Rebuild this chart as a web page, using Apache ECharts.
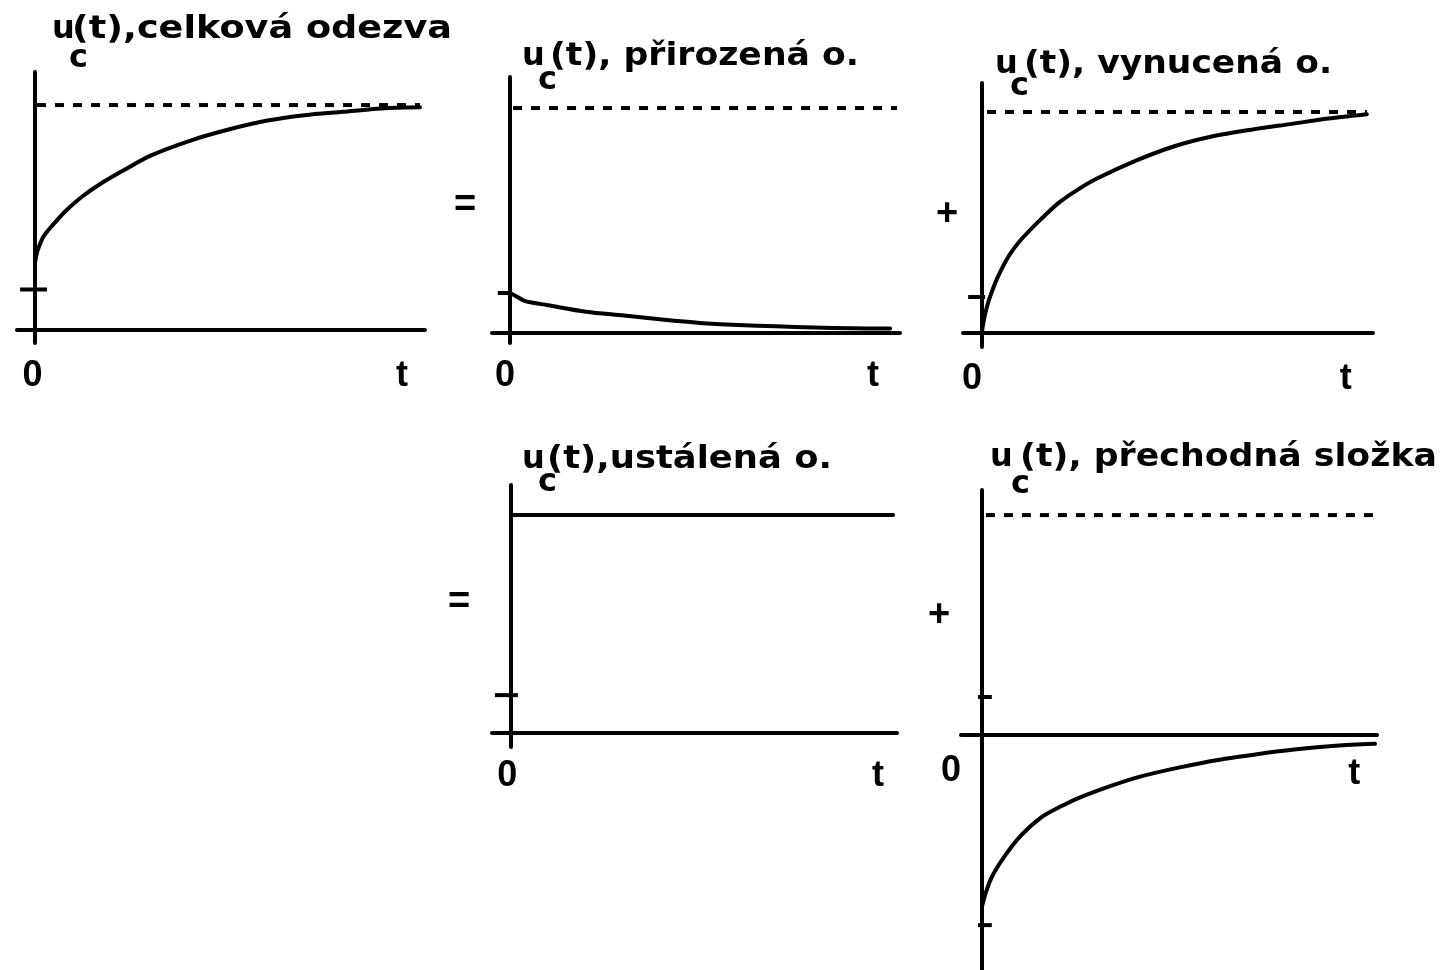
<!DOCTYPE html>
<html><head><meta charset="utf-8">
<script src="https://cdn.jsdelivr.net/npm/echarts@6/dist/echarts.min.js"></script>
<style>html,body{margin:0;padding:0;background:#fff;}#c{width:1442px;height:970px;}</style>
</head><body><div id="c"></div>
<script>
// ---------------- DATA ----------------
// Panel titles (u_c(t), ...)
const titleMain = 'u';
const titleSub = 'c';
const titleRest = ['(t),celková odezva', '(t), přirozená o.', '(t), vynucená o.', '(t),ustálená o.', '(t), přechodná složka'];
const operators = ['=', '+', '=', '+'];
const axisTexts = ['0', 't'];

// total response u_c(t)
const totalT = [0, 0.05, 0.1, 0.2, 0.35, 0.5, 0.8, 1.2, 1.7, 2.3, 3, 4, 5, 6, 7, 8, 9, 10];
const totalU = [0.30, 0.345, 0.37, 0.41, 0.445, 0.475, 0.53, 0.59, 0.65, 0.71, 0.775, 0.84, 0.89, 0.93, 0.955, 0.97, 0.985, 0.99];
// natural response
const naturalT = [0, 0.15, 0.4, 1, 2, 3, 4, 5, 6, 7, 8, 9, 10];
const naturalU = [0.178, 0.165, 0.142, 0.124, 0.095, 0.078, 0.06, 0.045, 0.036, 0.03, 0.025, 0.021, 0.02];
// forced response
const forcedT = [0, 0.05, 0.1, 0.2, 0.4, 0.7, 1, 1.5, 2, 2.5, 3, 4, 5, 6, 7, 8, 9, 10];
const forcedU = [0.01, 0.06, 0.1, 0.16, 0.25, 0.35, 0.42, 0.51, 0.59, 0.65, 0.70, 0.78, 0.845, 0.89, 0.92, 0.945, 0.97, 0.99];
// steady-state response
const steadyT = [0, 10];
const steadyU = [1, 1];
// transient component
const transientT = [0, 0.05, 0.1, 0.25, 0.6, 1, 1.5, 2, 2.5, 3.3, 4, 5, 6, 7, 8, 9, 10];
const transientU = [-0.78, -0.745, -0.715, -0.645, -0.545, -0.455, -0.375, -0.325, -0.283, -0.23, -0.19, -0.148, -0.113, -0.087, -0.065, -0.049, -0.04];
// final (asymptotic) value and short marks on the vertical axes
const finalValue = 1;
const totalMarks = [0.18];
const naturalMarks = [0.178];
const forcedMarks = [0.163];
const steadyMarks = [0.174];
const transientMarks = [0.173, -0.864];

// ---------------- LAYOUT ----------------
const BLACK = '#000';
const TF = 'DejaVu Sans';
const panels = [
  {t: totalT, u: totalU, marks: totalMarks, dashed: [0.05, 10], tick: [-0.39, 0.31],
   left: 17, top: 72, width: 408, height: 271, xMin: -0.47, xMax: 10.13, yMin: -0.058, yMax: 1.147,
   lab0: -0.065, labT: 9.53, margin: 15},
  {t: naturalT, u: naturalU, marks: naturalMarks, dashed: [0.08, 10.18], tick: [-0.32, 0],
   left: 492, top: 77, width: 408, height: 266, xMin: -0.474, xMax: 10.26, yMin: -0.044, yMax: 1.138,
   lab0: -0.13, labT: 9.55, margin: 15},
  {t: forcedT, u: forcedU, marks: forcedMarks, dashed: [0.13, 10], tick: [-0.36, 0.08],
   left: 963, top: 83, width: 410, height: 264, xMin: -0.494, xMax: 10.16, yMin: -0.063, yMax: 1.131,
   lab0: -0.26, labT: 9.45, margin: 14},
  {t: steadyT, u: steadyU, marks: steadyMarks, dashed: null, tick: [-0.42, 0.18],
   left: 492, top: 485, width: 405, height: 262, xMin: -0.497, xMax: 10.1, yMin: -0.064, yMax: 1.138,
   lab0: -0.1, labT: 9.6, margin: 11},
  {t: transientT, u: transientU, marks: transientMarks, dashed: [0.1, 9.95], tick: [-0.1, 0.25],
   left: 961, top: 490, width: 416, height: 480, xMin: -0.534, xMax: 10.05, yMin: -1.068, yMax: 1.114,
   lab0: null, labT: 9.47, margin: -214, yZeroLabel: true}
];
const titlePos = [
  {ux: 55, base: 40, rx0: 75, rx1: 450, cx: 71, cy: 60},
  {ux: 525, base: 67, rx0: 553, rx1: 857, cx: 540, cy: 82},
  {ux: 998, base: 75, rx0: 1027, rx1: 1330, cx: 1012, cy: 88},
  {ux: 525, base: 470, rx0: 550, rx1: 830, cx: 540, cy: 484},
  {ux: 993, base: 468, rx0: 1023, rx1: 1435, cx: 1013, cy: 486}
];
const opPos = [[465, 206], [947, 215], [459, 603], [939, 616]];

const pts = (ts, us) => ts.map((t, i) => [t, us[i]]);
const labelFont = {fontSize: 36, fontWeight: 'bold', fontFamily: '"Liberation Sans Narrow", "Liberation Sans", sans-serif', color: BLACK, lineHeight: 36};

const grids = [], xAxes = [], yAxes = [], series = [];
panels.forEach((p, i) => {
  grids.push({left: p.left, top: p.top, width: p.width, height: p.height, containLabel: false, outerBoundsMode: 'none'});
  const xl = [];
  if (p.lab0 !== null) xl.push(p.lab0);
  xl.push(p.labT);
  xAxes.push({
    type: 'value', gridIndex: i, min: p.xMin, max: p.xMax,
    axisLine: {onZero: true, lineStyle: {color: BLACK, width: 4}},
    axisTick: {show: false}, splitLine: {show: false},
    axisLabel: Object.assign({show: true, customValues: xl, margin: p.margin,
      formatter: v => (p.lab0 !== null && Math.abs(v - p.lab0) < 1e-9) ? axisTexts[0] : axisTexts[1]}, labelFont)
  });
  yAxes.push({
    type: 'value', gridIndex: i, min: p.yMin, max: p.yMax,
    axisLine: {onZero: true, lineStyle: {color: BLACK, width: 4}},
    axisTick: {show: false}, splitLine: {show: false},
    axisLabel: p.yZeroLabel ? Object.assign({show: true, customValues: [0], margin: 0, verticalAlign: 'top',
      padding: [18, 0, 0, 0], formatter: () => axisTexts[0]}, labelFont) : {show: false}
  });
  series.push({
    type: 'line', xAxisIndex: i, yAxisIndex: i, data: pts(p.t, p.u), smooth: 0.3,
    showSymbol: false, silent: true, lineStyle: {color: BLACK, width: 4, cap: 'round', join: 'round'}, z: 5
  });
  if (p.dashed) {
    series.push({
      type: 'line', xAxisIndex: i, yAxisIndex: i,
      data: [[p.dashed[0], finalValue], [p.dashed[1], finalValue]],
      showSymbol: false, silent: true, lineStyle: {color: BLACK, width: 4, type: [9, 9]}, z: 4
    });
  }
  p.marks.forEach(m => {
    series.push({
      type: 'line', xAxisIndex: i, yAxisIndex: i,
      data: [[p.tick[0], m], [p.tick[1], m]],
      showSymbol: false, silent: true, lineStyle: {color: BLACK, width: 4}, z: 4
    });
  });
});

// measure text to fit the title widths
const mctx = document.createElement('canvas').getContext('2d');
const TFS = 32;
function textW(s, fs, fam) { mctx.font = 'bold ' + fs + 'px "' + fam + '"'; return mctx.measureText(s).width; }
const graphics = [];
const K = 0.32;
titlePos.forEach((tp, i) => {
  const w = textW(titleRest[i], TFS, TF);
  const sx = (tp.rx1 - tp.rx0 + 5) / w;
  const common = {fontSize: TFS, fontWeight: 'bold', fontFamily: TF, fill: BLACK, align: 'left', verticalAlign: 'middle'};
  graphics.push({type: 'text', silent: true, x: tp.ux - 3, y: tp.base - K * TFS, style: Object.assign({text: titleMain}, common)});
  graphics.push({type: 'text', silent: true, x: tp.rx0 - 3, y: tp.base - K * TFS, scaleX: sx, style: Object.assign({text: titleRest[i]}, common)});
  graphics.push({type: 'text', silent: true, x: tp.cx - 2, y: tp.cy - 1, style: Object.assign({text: titleSub}, common)});
});
opPos.forEach((op, i) => {
  graphics.push({type: 'text', silent: true, x: op[0], y: op[1],
    style: {text: operators[i], fontSize: 38, fontWeight: 'bold', fontFamily: 'Liberation Sans', fill: BLACK, align: 'center', verticalAlign: 'middle'}});
});

const chart = echarts.init(document.getElementById('c'), null, {renderer: 'canvas'});
chart.setOption({
  backgroundColor: '#fff',
  animation: false,
  grid: grids, xAxis: xAxes, yAxis: yAxes, series: series,
  graphic: graphics
});
</script></body></html>
